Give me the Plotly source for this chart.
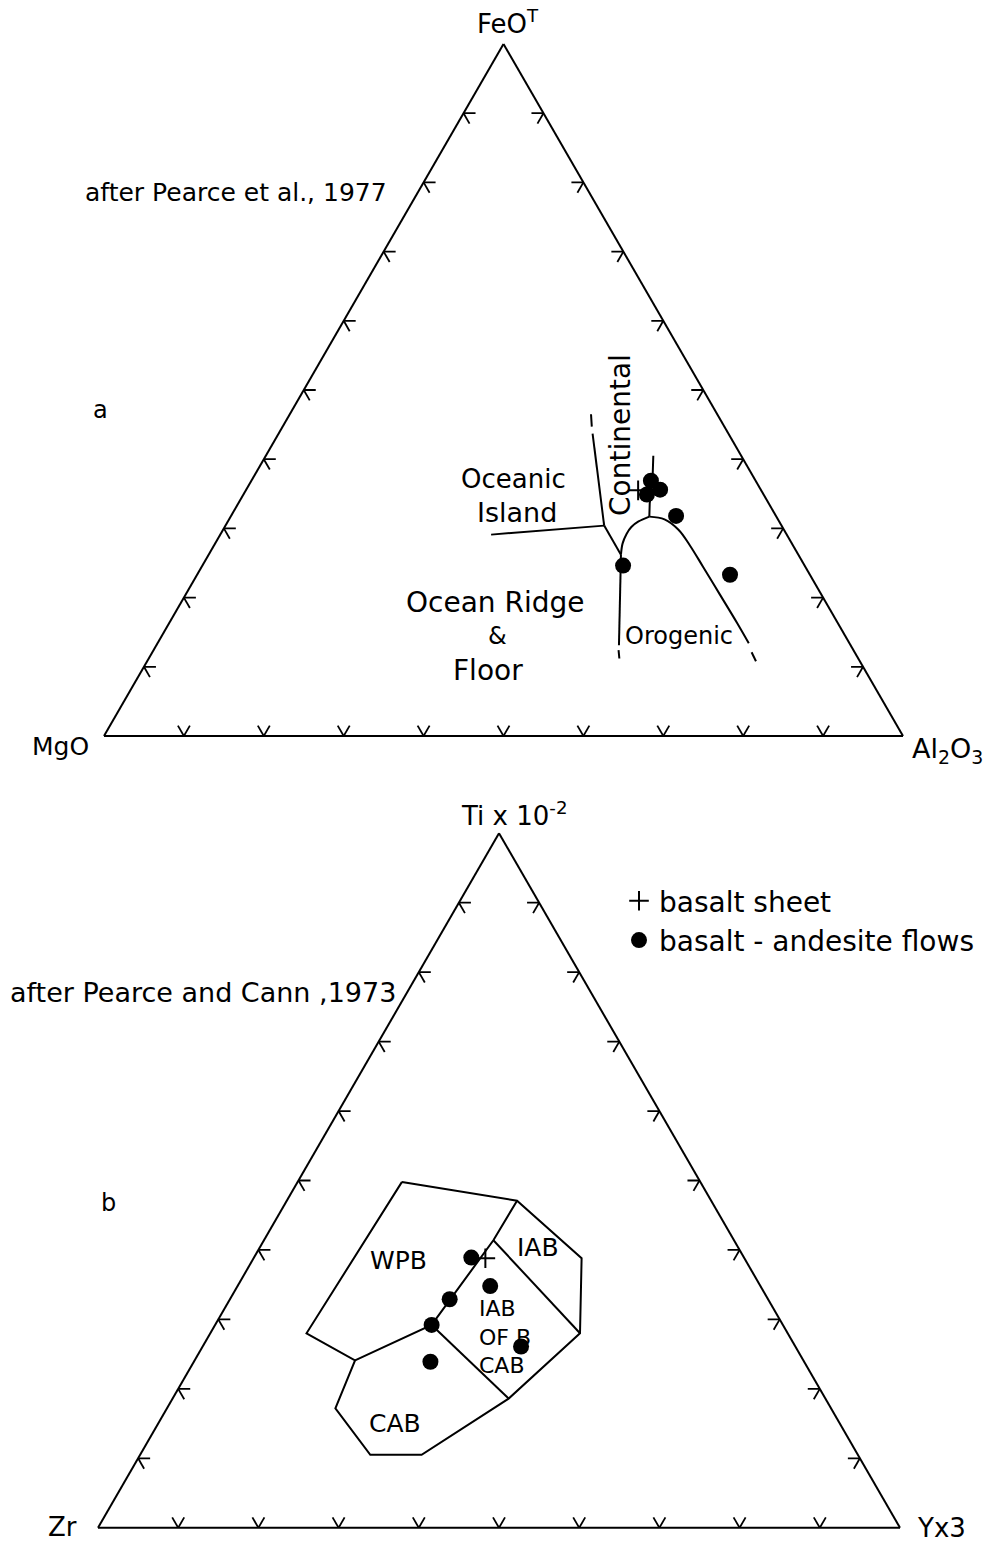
import plotly.graph_objects as go

W, H = 994, 1543
FONT = "DejaVu Sans"

# ---------------- Diagram a : FeOT - MgO - Al2O3 (Pearce et al., 1977) ----------------
# values in % (FeOT, MgO, Al2O3)
a_sheet_feo = [35.5]
a_sheet_mgo = [15.4]
a_sheet_al = [49.1]

a_flow_feo = [36.9, 34.9, 35.6, 31.8, 24.6, 23.3]
a_flow_mgo = [13.1, 14.6, 12.6, 12.5, 22.7, 10.0]
a_flow_al = [50.0, 50.5, 51.8, 55.7, 52.6, 66.7]

# field boundaries (FeOT, MgO, Al2O3)
a_island_cont = [(43.7, 17.0, 39.3), (30.4, 22.2, 47.4)]
a_island_cont_dash = [(46.5, 15.8, 37.7), (44.7, 16.6, 38.7)]
a_island_ridge = [(29.1, 37.0, 33.9), (30.4, 22.2, 47.4)]
a_ridge_link = [(30.4, 22.2, 47.4), (26.2, 22.2, 51.6)]
a_ridge_orog = [(26.2, 22.2, 51.6), (13.1, 29.0, 57.9)]
a_ridge_orog_dash = [(12.4, 29.4, 58.2), (11.2, 29.9, 58.9)]
a_cont_arc = [(26.2, 22.2, 51.6), (27.8, 21.2, 51.0), (29.2, 20.0, 50.8),
              (30.2, 18.9, 50.9), (31.0, 17.6, 51.4), (31.7, 15.9, 52.4)]
a_cont_right = [(40.5, 11.0, 48.5), (36.9, 12.9, 50.2), (33.6, 14.9, 51.5), (31.7, 15.9, 52.4)]
a_orogenic = [(31.7, 15.9, 52.4), (31.3, 14.2, 54.5), (29.8, 13.2, 57.0), (27.5, 12.9, 59.6),
              (24.5, 12.8, 62.7), (20.5, 12.7, 66.8), (16.4, 12.6, 71.0), (13.4, 12.6, 74.0)]
a_orogenic_dash = [(12.1, 12.9, 75.0), (10.8, 13.0, 76.2)]

# ---------------- Diagram b : Ti - Zr - Y (Pearce and Cann, 1973) ----------------
# values in % (Ti/100, Zr, Y*3)
b_sheet_ti = [38.8]
b_sheet_zr = [32.3]
b_sheet_y = [28.9]

b_flow_ti = [38.9, 34.8, 32.9, 29.2, 23.9, 26.1]
b_flow_zr = [34.0, 33.7, 39.7, 43.8, 46.6, 34.2]
b_flow_y = [27.1, 31.5, 27.4, 27.0, 29.5, 39.7]

b_outline = [(49.8, 37.2, 13.0), (47.1, 24.2, 28.7), (38.8, 20.3, 40.9), (28.0, 25.9, 46.1),
             (18.6, 39.5, 41.9), (10.5, 54.4, 35.1), (10.5, 60.8, 28.7), (17.2, 61.8, 21.0),
             (24.1, 55.9, 20.0), (28.0, 60.0, 12.0), (49.8, 37.2, 13.0)]
b_wpb_line = [(47.1, 24.2, 28.7), (41.4, 30.0, 28.6), (29.2, 43.8, 27.0), (24.1, 55.9, 20.0)]
b_iab_line = [(41.4, 30.0, 28.6), (28.0, 25.9, 46.1)]
b_cab_line = [(29.2, 43.8, 27.0), (18.6, 39.5, 41.9)]

tick_fracs = [10, 20, 30, 40, 50, 60, 70, 80, 90]
TICK = 1.5

fig = go.Figure()


def add_line(pts, sub, dash="solid", shape="linear"):
    fig.add_trace(go.Scatterternary(
        a=[p[0] for p in pts], b=[p[1] for p in pts], c=[p[2] for p in pts],
        mode="lines", line=dict(color="black", width=2, dash=dash, shape=shape),
        hoverinfo="skip", showlegend=False, subplot=sub))


def add_ticks(sub):
    A, B, C = [], [], []
    for t in tick_fracs:
        # left edge (c = 0): arms along constant a and constant b
        A += [t, t, None, t, t - TICK, None]
        B += [100 - t, 100 - t - TICK, None, 100 - t, 100 - t, None]
        C += [0, TICK, None, 0, TICK, None]
        # right edge (b = 0): arms along constant a and constant c
        A += [t, t, None, t, t - TICK, None]
        B += [0, TICK, None, 0, TICK, None]
        C += [100 - t, 100 - t - TICK, None, 100 - t, 100 - t, None]
        # bottom edge (a = 0): V shaped arms along constant b and constant c
        A += [0, TICK, None, 0, TICK, None]
        B += [t, t, None, t, t - TICK, None]
        C += [100 - t, 100 - t - TICK, None, 100 - t, 100 - t, None]
    fig.add_trace(go.Scatterternary(a=A, b=B, c=C, mode="lines",
                                    line=dict(color="black", width=1.8),
                                    connectgaps=False, hoverinfo="skip",
                                    showlegend=False, subplot=sub))


# diagram a
add_ticks("ternary")
for seg in [a_island_cont, a_island_ridge, a_ridge_link, a_ridge_orog, a_cont_right]:
    add_line(seg, "ternary")
for seg in [a_cont_arc, a_orogenic]:
    add_line(seg, "ternary", shape="spline")
for seg in [a_island_cont_dash, a_ridge_orog_dash, a_orogenic_dash]:
    add_line(seg, "ternary")

fig.add_trace(go.Scatterternary(a=a_sheet_feo, b=a_sheet_mgo, c=a_sheet_al, mode="markers",
                                marker=dict(symbol="cross-thin", size=14, color="black",
                                            line=dict(color="black", width=2)),
                                name="basalt sheet", showlegend=False, subplot="ternary"))
fig.add_trace(go.Scatterternary(a=a_flow_feo, b=a_flow_mgo, c=a_flow_al, mode="markers",
                                marker=dict(symbol="circle", size=16, color="black"),
                                name="basalt - andesite flows", showlegend=False, subplot="ternary"))

# diagram b
add_ticks("ternary2")
for seg in [b_outline, b_wpb_line, b_iab_line, b_cab_line]:
    add_line(seg, "ternary2")

fig.add_trace(go.Scatterternary(a=b_sheet_ti, b=b_sheet_zr, c=b_sheet_y, mode="markers",
                                marker=dict(symbol="cross-thin", size=14, color="black",
                                            line=dict(color="black", width=2)),
                                name="basalt sheet", showlegend=True, subplot="ternary2"))
fig.add_trace(go.Scatterternary(a=b_flow_ti, b=b_flow_zr, c=b_flow_y, mode="markers",
                                marker=dict(symbol="circle", size=16, color="black"),
                                name="basalt - andesite flows", showlegend=True, subplot="ternary2"))

axis_style = dict(showline=True, linecolor="black", linewidth=2, showgrid=False,
                  ticks="", showticklabels=False, title=dict(text=""), min=0)


def dom(x0, x1, ytop, ybot):
    return dict(x=[x0 / W, x1 / W], y=[1 - ybot / H, 1 - ytop / H])


def ann(text, x, y, size=25, angle=0, xanchor="center", align="center"):
    return dict(text=text, x=x / W, y=1 - y / H, xref="paper", yref="paper",
                showarrow=False, xanchor=xanchor, yanchor="middle", textangle=angle,
                align=align, borderpad=0,
                font=dict(family=FONT, size=size, color="black"))


annotations = [
    # diagram a
    ann("FeO<sup>T</sup>", 508, 22, 26),
    ann("MgO", 60, 746, 25),
    ann("Al<sub>2</sub>O<sub>3</sub>", 947, 750, 27),
    ann("after Pearce et al., 1977", 236, 193, 25),
    ann("a", 100, 410, 24),
    ann("Oceanic", 513, 479, 26),
    ann("Island", 517, 512, 27),
    ann("Continental", 620, 435, 28, angle=-90),
    ann("Ocean Ridge", 495, 602, 28),
    ann("&", 497, 636, 24),
    ann("Floor", 488, 670, 28),
    ann("Orogenic", 679, 636, 24),
    # diagram b
    ann("Ti x 10<sup>-2</sup>", 514, 814, 26),
    ann("Zr", 62, 1527, 26),
    ann("Yx3", 941, 1528, 26),
    ann("after Pearce and Cann ,1973", 203, 993, 27),
    ann("b", 108, 1203, 24),
    ann("WPB", 398, 1260, 25),
    ann("IAB", 538, 1247, 25),
    ann("IAB<br>OF B<br>CAB", 478, 1337, 22, xanchor="left", align="left"),
    ann("CAB", 395, 1423, 25),
]

fig.update_layout(
    width=W, height=H,
    margin=dict(l=0, r=0, t=0, b=0),
    paper_bgcolor="white", plot_bgcolor="white",
    font=dict(family=FONT, size=25, color="black"),
    ternary=dict(domain=dom(104, 903, 44, 736), sum=100, bgcolor="white",
                 aaxis=axis_style, baxis=axis_style, caxis=axis_style),
    ternary2=dict(domain=dom(98, 900, 833, 1528), sum=100, bgcolor="white",
                  aaxis=axis_style, baxis=axis_style, caxis=axis_style),
    legend=dict(x=619 / W, y=1 - 876 / H, xanchor="left", yanchor="top",
                font=dict(family=FONT, size=28, color="black"),
                bgcolor="rgba(0,0,0,0)", itemsizing="trace"),
    annotations=annotations,
    showlegend=True,
)

fig.write_html("out.html")
